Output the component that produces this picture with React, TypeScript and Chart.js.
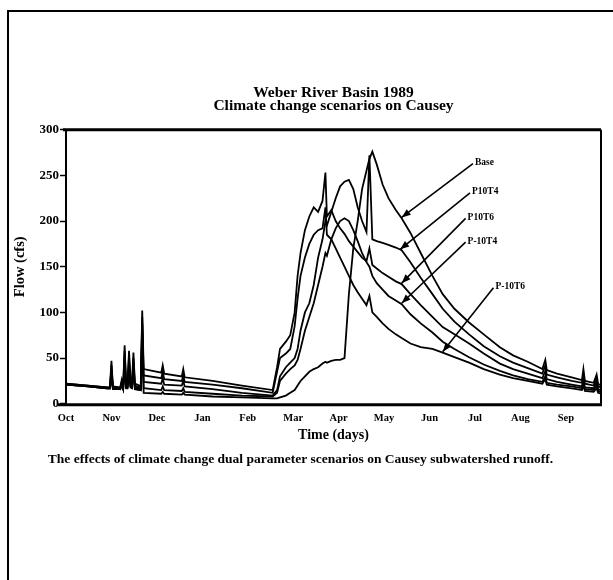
import { useEffect, useRef } from "react";
import { Chart, registerables } from "chart.js";

Chart.register(...registerables);

const FONT = "'Liberation Serif', 'Times New Roman', serif";

// days since Oct 1 (water year 1989)
const days = [
  0, 15, 28, 30, 31, 32, 37, 38, 39, 40,
  41, 42, 43, 44, 45, 46, 47, 50, 51, 52,
  53, 65, 66, 67, 79, 80, 81, 100, 120, 141,
  144, 146, 150, 153, 156, 158, 160, 163, 166, 169,
  172, 175, 177, 178, 181, 184, 187, 190, 193, 196,
  199, 202, 205, 207, 209, 212, 216, 220, 225, 229,
  235, 242, 250, 257, 265, 275, 285, 296, 305, 315,
  325, 327, 328, 335, 345, 352, 353, 354, 360, 362,
  363, 365,
];

const flowP10T6 = [
  22, 20, 18, 18, 47, 19, 18, 26, 19, 64,
  22, 22, 58, 24, 22, 56, 22, 20, 19, 102,
  38, 34, 42, 33, 30, 38, 29, 25, 20, 15,
  40, 60, 68, 75, 100, 140, 165, 190, 205, 215,
  210, 222, 253, 205, 212, 200, 192, 186, 178, 172,
  166, 160, 156, 170, 152, 148, 143, 139, 134, 131,
  120, 108, 95, 84, 76, 66, 55, 44, 38, 33,
  28, 36, 27, 24, 21, 19, 27, 18, 17, 24,
  16, 15,
];

const flowM10T6 = [
  22, 20, 18, 18, 42, 18, 17, 24, 18, 58,
  20, 20, 52, 22, 20, 50, 20, 18, 17, 95,
  31, 28, 35, 27, 25, 31, 24, 21, 17, 12,
  35, 50, 55, 60, 85, 115, 140, 160, 175, 185,
  190, 192, 215, 185, 180, 170, 160, 150, 140, 130,
  122, 115, 108, 118, 100, 95, 88, 82, 76, 72,
  66, 62, 60, 56, 51, 45, 38, 32, 28, 25,
  22, 27, 21, 19, 17, 15, 20, 14, 13, 17,
  12, 11,
];

const flowP10T4 = [
  21, 19, 17, 17, 38, 17, 17, 22, 17, 50,
  19, 19, 46, 20, 19, 44, 18, 17, 16, 88,
  24, 22, 28, 21, 20, 25, 19, 16, 12, 9,
  15, 30, 40, 45, 50, 60, 80, 100, 110, 130,
  160, 180, 200, 195, 210, 225, 238, 243, 245, 235,
  215, 200, 188, 272, 180, 178, 176, 174, 171, 168,
  155, 138, 120, 104, 90, 76, 63, 52, 45, 39,
  33, 42, 32, 29, 25, 23, 33, 22, 20, 28,
  19, 18,
];

const flowM10T4 = [
  21, 19, 17, 17, 35, 17, 16, 21, 16, 45,
  18, 18, 42, 19, 18, 40, 17, 16, 15, 80,
  17, 15, 19, 15, 14, 17, 13, 11, 9, 8,
  12, 25, 33, 38, 42, 48, 60, 80, 95, 110,
  130, 150, 165, 162, 180, 192, 200, 203, 200, 190,
  178, 165, 155, 150, 140, 132, 125, 118, 113, 109,
  98, 88, 78, 68, 60, 51, 43, 36, 31, 27,
  24, 30, 23, 21, 19, 17, 24, 16, 15, 20,
  14, 13,
];

const flowBase = [
  21, 19, 17, 17, 30, 16, 16, 20, 16, 40,
  17, 17, 38, 18, 17, 36, 16, 15, 15, 70,
  12, 11, 13, 11, 10, 12, 10, 8, 7, 6,
  6, 7, 9, 12, 15, 20, 25, 30, 35, 38,
  40, 44, 46, 45, 47, 48, 48, 50, 120, 170,
  200, 235, 255, 268, 276, 262, 240, 225, 212, 203,
  187, 165, 140, 120, 104, 89, 76, 62, 53, 46,
  38, 48, 37, 33, 29, 26, 38, 25, 23, 32,
  22, 20,
];

const monthLabels = ["Oct", "Nov", "Dec", "Jan", "Feb", "Mar", "Apr", "May", "Jun", "Jul", "Aug", "Sep"];
const yTickValues = [0, 50, 100, 150, 200, 250, 300];

const seriesNames = ["Base", "P10T4", "P10T6", "P-10T4", "P-10T6"];
const seriesFlows = [flowBase, flowP10T4, flowP10T6, flowM10T4, flowM10T6];
// annotation label anchors and arrow targets (data units: day, cfs)
const labelDays = [279, 277, 274, 274, 293];
const labelFlows = [264, 232, 204, 178, 128];
const arrowDays = [229, 228, 229, 229, 257];
const arrowFlows = [204, 169, 132, 110, 57];

const titleLines = ["Weber River Basin 1989", "Climate change scenarios on Causey"];
const captionText = "The effects of climate change dual parameter scenarios on Causey subwatershed runoff.";

const arrowsPlugin = {
  id: "scenarioArrows",
  afterDatasetsDraw(chart: any) {
    const { ctx, scales } = chart;
    const x = scales.x;
    const y = scales.y;
    ctx.save();
    ctx.fillStyle = "#000";
    ctx.strokeStyle = "#000";
    ctx.lineWidth = 1.6;
    ctx.font = `bold 9.5px ${FONT}`;
    ctx.textBaseline = "middle";
    ctx.textAlign = "left";
    seriesNames.forEach((name, i) => {
      const lx = x.getPixelForValue(labelDays[i]);
      const ly = y.getPixelForValue(labelFlows[i]);
      const tx = x.getPixelForValue(arrowDays[i]);
      const ty = y.getPixelForValue(arrowFlows[i]);
      ctx.fillText(name, lx, ly);
      const sx = lx - 2;
      const sy = ly + 1;
      ctx.beginPath();
      ctx.moveTo(sx, sy);
      ctx.lineTo(tx, ty);
      ctx.stroke();
      const ang = Math.atan2(ty - sy, tx - sx);
      const L = 9;
      const W = 3.5;
      ctx.beginPath();
      ctx.moveTo(tx, ty);
      ctx.lineTo(tx - L * Math.cos(ang) + W * Math.sin(ang), ty - L * Math.sin(ang) - W * Math.cos(ang));
      ctx.lineTo(tx - L * Math.cos(ang) - W * Math.sin(ang), ty - L * Math.sin(ang) + W * Math.cos(ang));
      ctx.closePath();
      ctx.fill();
    });
    ctx.restore();
  },
};

const boxPlugin = {
  id: "plotBox",
  afterDraw(chart: any) {
    const { ctx, chartArea } = chart;
    const { left, right, top, bottom } = chartArea;
    ctx.save();
    ctx.strokeStyle = "#000";
    ctx.lineWidth = 3;
    ctx.beginPath();
    ctx.moveTo(left - 3, top);
    ctx.lineTo(right, top);
    ctx.stroke();
    ctx.beginPath();
    ctx.moveTo(left - 8, bottom + 1);
    ctx.lineTo(right + 1, bottom + 1);
    ctx.stroke();
    ctx.lineWidth = 2;
    ctx.beginPath();
    ctx.moveTo(left, top);
    ctx.lineTo(left, bottom);
    ctx.moveTo(right, top);
    ctx.lineTo(right, bottom);
    ctx.stroke();
    ctx.restore();
  },
};

export default function App() {
  const canvasRef = useRef<HTMLCanvasElement | null>(null);

  useEffect(() => {
    const canvas = canvasRef.current;
    if (!canvas) return;
    const chart = new Chart(canvas, {
      type: "line",
      data: {
        datasets: seriesNames.map((name, i) => ({
          label: name,
          data: days.map((d, j) => ({ x: d, y: seriesFlows[i][j] })),
          borderColor: "#000",
          borderWidth: 1.8,
          pointRadius: 0,
          tension: 0,
          fill: false,
        })),
      },
      options: {
        responsive: false,
        animation: false,
        events: [],
        layout: { padding: { top: 86, left: 0, right: 12, bottom: 112 } },
        plugins: {
          legend: { display: false },
          tooltip: { enabled: false },
          title: {
            display: true,
            fullSize: false,
            text: titleLines,
            color: "#000",
            font: { family: FONT, size: 15.5, weight: "bold", lineHeight: 0.86 },
            padding: { top: 0, bottom: 17 },
          },
          subtitle: {
            display: true,
            position: "bottom",
            align: "center",
            text: captionText,
            color: "#000",
            font: { family: FONT, size: 13.5, weight: "bold", lineHeight: 1.2 },
            padding: { top: 8, bottom: 0 },
          },
        },
        scales: {
          x: {
            type: "linear",
            min: 0,
            max: 365,
            afterBuildTicks: (scale: any) => {
              scale.ticks = monthLabels.map((_, i) => ({ value: i * 31 }));
            },
            afterFit: (scale: any) => {
              scale.height = 40;
            },
            ticks: {
              autoSkip: false,
              maxRotation: 0,
              padding: 8,
              color: "#000",
              font: { family: FONT, size: 10.5, weight: "bold" },
              callback: (v: any) => monthLabels[Math.round(Number(v) / 31)] ?? "",
            },
            grid: { display: false, drawTicks: false },
            border: { display: false },
            title: {
              display: true,
              text: "Time (days)",
              color: "#000",
              font: { family: FONT, size: 14, weight: "bold", lineHeight: 1.2 },
              padding: { top: 0, bottom: 0 },
            },
          },
          y: {
            type: "linear",
            min: 0,
            max: 300,
            afterBuildTicks: (scale: any) => {
              scale.ticks = yTickValues.map((v) => ({ value: v }));
            },
            afterFit: (scale: any) => {
              scale.width = 66;
            },
            ticks: {
              padding: 1,
              color: "#000",
              font: { family: FONT, size: 13, weight: "bold" },
            },
            grid: {
              drawOnChartArea: false,
              drawTicks: true,
              tickLength: 6,
              tickWidth: 1.5,
              tickColor: "#000",
            },
            border: { display: false },
            title: {
              display: true,
              text: "Flow (cfs)",
              color: "#000",
              font: { family: FONT, size: 14.5, weight: "bold", lineHeight: 1.2 },
              padding: { top: 12, bottom: 0 },
            },
          },
        },
      },
      plugins: [arrowsPlugin, boxPlugin],
    });
    return () => chart.destroy();
  }, []);

  return (
    <div style={{ position: "absolute", left: 0, top: 0, width: 613, height: 580, background: "#fff" }}>
      <div
        style={{
          position: "absolute",
          left: 7,
          top: 10,
          right: 0,
          bottom: 0,
          borderTop: "2px solid #000",
          borderLeft: "2px solid #000",
        }}
      />
      <canvas ref={canvasRef} width={613} height={580} style={{ position: "absolute", left: 0, top: 0 }} />
    </div>
  );
}
